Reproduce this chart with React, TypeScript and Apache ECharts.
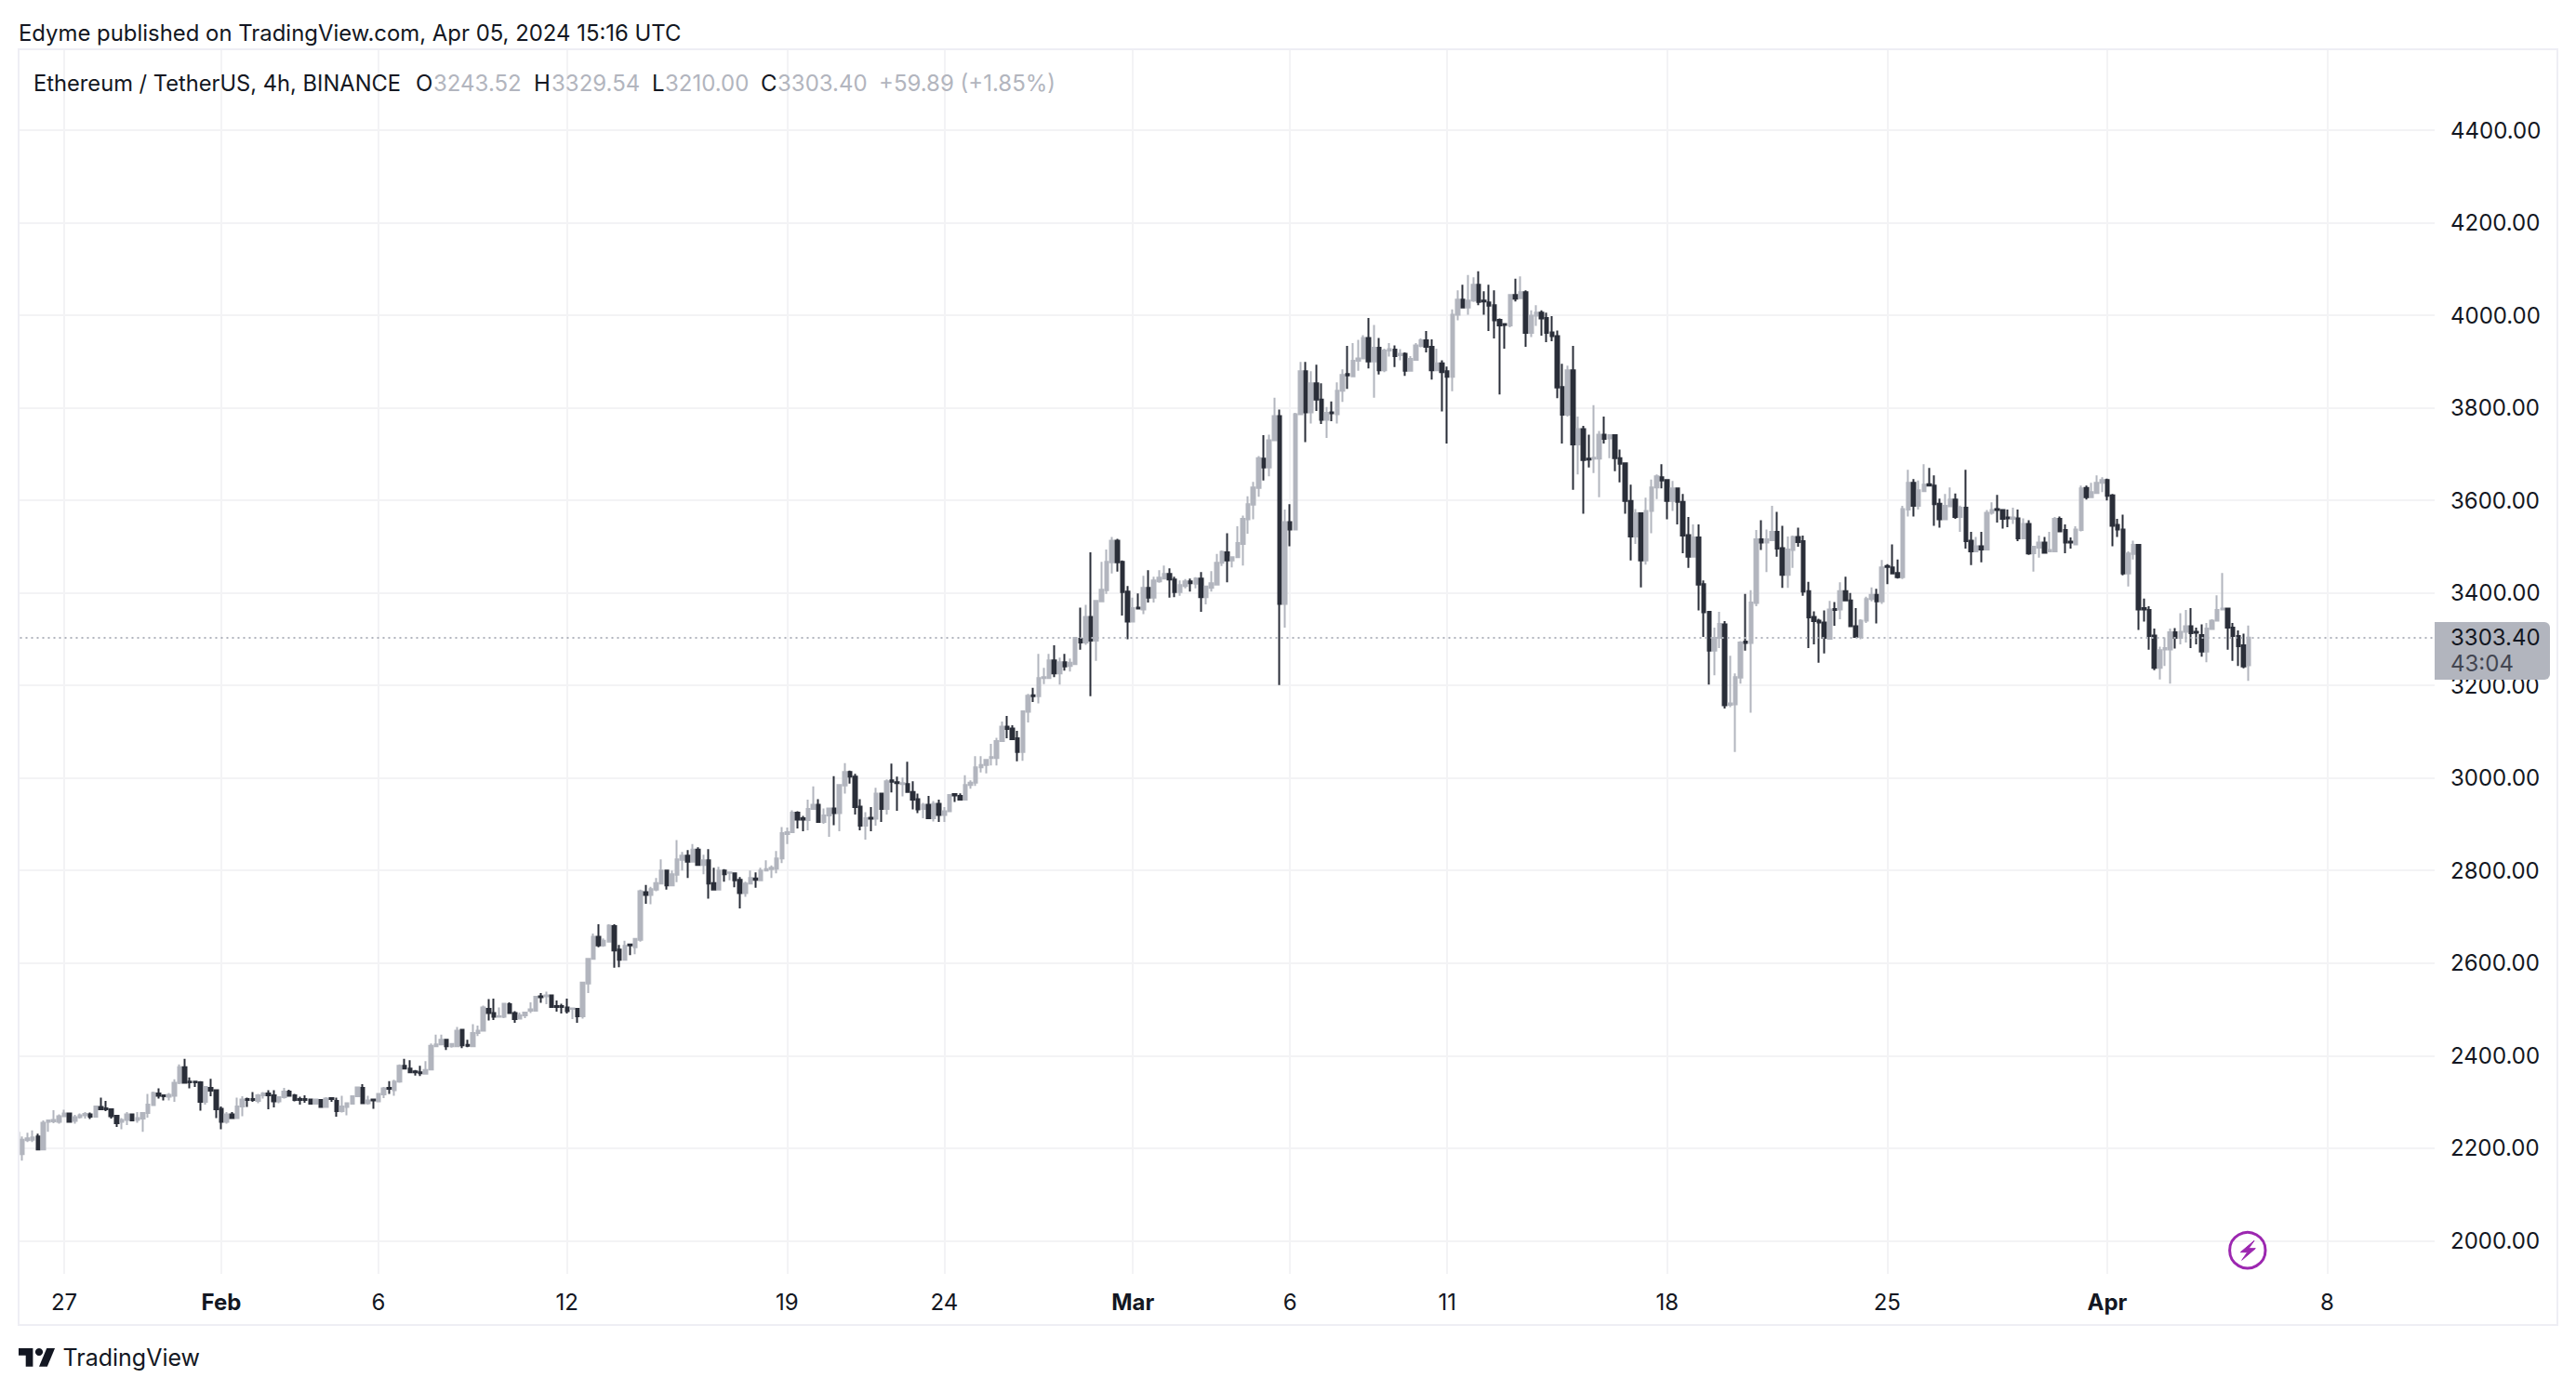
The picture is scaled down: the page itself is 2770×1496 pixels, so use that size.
import React, { useEffect, useRef } from "react";
import * as echarts from "echarts";

const opens = [
  2187,2187,2217,2218,2225,2197,2257,2258,2257,2269,
  2275,2259,2267,2271,2273,2268,2289,2286,2284,2270,
  2257,2261,2273,2261,2264,2276,2293,2318,2314,2311,
  2313,2341,2375,2344,2344,2342,2300,2330,2325,2285,
  2257,2273,2265,2290,2306,2306,2302,2314,2318,2314,
  2301,2310,2322,2314,2306,2306,2305,2296,2304,2289,
  2308,2302,2280,2289,2296,2312,2330,2297,2305,2301,
  2316,2330,2325,2344,2378,2372,2366,2364,2361,2370,
  2420,2424,2434,2420,2420,2456,2423,2420,2449,2454,
  2501,2492,2484,2484,2511,2492,2480,2487,2497,2497,
  2528,2528,2530,2507,2507,2504,2501,2501,2485,2556,
  2609,2657,2638,2646,2680,2629,2607,2640,2634,2650,
  2753,2747,2759,2772,2800,2768,2791,2823,2832,2819,
  2845,2812,2822,2773,2759,2800,2795,2794,2780,2751,
  2772,2783,2779,2800,2803,2804,2826,2879,2883,2925,
  2913,2909,2933,2942,2905,2919,2934,2924,2984,3013,
  3003,2938,2897,2914,2912,2966,2933,2995,2991,2987,
  2987,2970,2954,2933,2942,2913,2944,2920,2928,2965,
  2961,2953,2985,2990,3023,3028,3043,3043,3080,3111,
  3107,3086,3056,3143,3179,3177,3216,3216,3254,3226,
  3250,3242,3246,3301,3293,3348,3297,3382,3406,3466,
  3513,3467,3403,3338,3368,3364,3411,3390,3425,3431,
  3441,3429,3402,3415,3425,3420,3431,3391,3411,3418,
  3465,3488,3470,3477,3506,3559,3591,3627,3690,3671,
  3730,3782,3376,3553,3537,3786,3879,3790,3853,3818,
  3774,3790,3786,3837,3873,3868,3902,3907,3951,3900,
  3930,3881,3924,3926,3914,3917,3880,3904,3934,3946,
  3932,3881,3896,3879,3867,4001,4034,4017,4032,4066,
  4032,4028,4022,3990,3981,3978,4044,4037,4050,3962,
  3999,4006,3994,3963,3955,3845,3785,3881,3721,3754,
  3690,3690,3690,3742,3734,3741,3691,3680,3599,3522,
  3572,3470,3577,3628,3650,3644,3599,3626,3597,3525,
  3478,3520,3419,3359,3275,3303,3332,3158,3159,3217,
  3295,3292,3378,3516,3509,3514,3532,3497,3439,3493,
  3521,3512,3404,3348,3340,3336,3301,3365,3364,3404,
  3384,3328,3305,3340,3387,3396,3382,3458,3455,3443,
  3434,3580,3638,3588,3620,3635,3632,3593,3559,3587,
  3602,3564,3584,3513,3490,3501,3494,3573,3581,3579,
  3563,3560,3561,3518,3549,3486,3498,3509,3490,3490,
  3560,3536,3511,3505,3536,3627,3607,3616,3638,3644,
  3611,3547,3537,3442,3484,3504,3367,3363,3308,3238,
  3278,3278,3315,3303,3316,3328,3316,3309,3273,3322,
  3340,3364,3366,3325,3307,3287,3243.52,
];

const closes = [
  2233,2218,2221,2223,2197,2255,2260,2261,2269,2275,
  2257,2267,2271,2274,2268,2290,2284,2284,2269,2254,
  2261,2273,2260,2265,2276,2294,2319,2313,2312,2315,
  2341,2375,2341,2342,2342,2300,2332,2324,2284,2257,
  2273,2265,2290,2305,2304,2304,2314,2318,2314,2301,
  2310,2322,2313,2304,2304,2304,2296,2305,2289,2307,
  2306,2280,2290,2297,2312,2331,2297,2303,2303,2317,
  2329,2328,2344,2378,2372,2364,2364,2362,2369,2421,
  2424,2434,2420,2425,2454,2422,2421,2449,2454,2504,
  2492,2484,2485,2512,2492,2479,2487,2493,2500,2527,
  2526,2530,2505,2505,2505,2496,2502,2485,2558,2609,
  2657,2638,2648,2681,2627,2607,2637,2638,2652,2755,
  2747,2760,2773,2800,2768,2792,2824,2832,2819,2845,
  2812,2822,2772,2759,2800,2792,2796,2779,2751,2772,
  2784,2780,2800,2803,2806,2826,2881,2883,2925,2910,
  2910,2933,2942,2905,2919,2934,2924,2985,3013,3003,
  2937,2897,2913,2912,2966,2933,2993,2992,2989,2989,
  2970,2953,2932,2942,2913,2944,2920,2928,2963,2962,
  2953,2985,2990,3023,3028,3039,3045,3080,3111,3106,
  3084,3056,3144,3178,3177,3216,3218,3254,3226,3250,
  3241,3249,3303,3293,3348,3297,3383,3407,3467,3513,
  3466,3402,3338,3367,3366,3411,3390,3427,3433,3441,
  3429,3402,3417,3425,3421,3431,3391,3414,3421,3465,
  3489,3470,3477,3508,3560,3592,3628,3691,3671,3730,
  3782,3376,3553,3537,3786,3879,3790,3853,3818,3774,
  3789,3788,3837,3871,3870,3902,3907,3951,3900,3930,
  3881,3924,3927,3912,3917,3880,3906,3935,3946,3932,
  3881,3896,3877,3867,4001,4034,4017,4032,4066,4029,
  4030,4021,3989,3978,3979,4044,4036,4050,3962,3999,
  4006,3993,3962,3955,3844,3785,3881,3721,3754,3687,
  3688,3692,3742,3733,3741,3691,3679,3599,3522,3572,
  3470,3577,3628,3652,3643,3599,3626,3597,3524,3478,
  3520,3418,3358,3275,3303,3333,3157,3161,3218,3293,
  3292,3379,3516,3509,3516,3532,3496,3439,3494,3521,
  3510,3403,3347,3339,3336,3303,3364,3363,3404,3384,
  3328,3305,3340,3387,3396,3382,3455,3456,3442,3434,
  3581,3638,3588,3622,3634,3632,3592,3559,3588,3602,
  3564,3584,3512,3490,3501,3494,3573,3579,3579,3560,
  3561,3563,3518,3549,3485,3500,3509,3487,3493,3560,
  3533,3509,3509,3537,3626,3607,3618,3638,3644,3610,
  3545,3537,3442,3485,3504,3364,3364,3307,3238,3276,
  3281,3315,3303,3316,3328,3313,3314,3273,3323,3340,
  3363,3366,3325,3307,3285,3241,3303.40,
];

const lows = [
  2187,2173,2213,2213,2197,2197,2235,2254,2253,2267,
  2255,2253,2264,2264,2263,2266,2282,2280,2264,2246,
  2241,2250,2258,2255,2235,2266,2293,2307,2303,2303,
  2300,2338,2340,2329,2332,2281,2294,2312,2265,2241,
  2253,2265,2265,2269,2289,2300,2297,2307,2284,2288,
  2297,2307,2313,2301,2294,2298,2296,2294,2289,2288,
  2300,2268,2277,2271,2294,2310,2296,2294,2285,2301,
  2308,2317,2313,2341,2370,2362,2357,2356,2361,2369,
  2420,2422,2412,2417,2420,2416,2418,2420,2442,2453,
  2476,2477,2484,2481,2491,2471,2480,2481,2492,2495,
  2514,2511,2504,2495,2491,2491,2479,2471,2480,2535,
  2608,2634,2635,2645,2590,2591,2607,2617,2619,2646,
  2728,2727,2755,2771,2759,2767,2775,2800,2784,2818,
  2811,2792,2739,2757,2759,2776,2779,2764,2718,2743,
  2771,2763,2779,2799,2784,2794,2816,2857,2881,2891,
  2885,2887,2932,2903,2901,2873,2898,2885,2966,2988,
  2921,2887,2867,2885,2897,2905,2921,2969,2929,2960,
  2969,2932,2924,2913,2913,2906,2905,2905,2928,2948,
  2953,2953,2977,2983,3012,3010,3027,3027,3080,3086,
  3083,3036,3037,3120,3164,3161,3203,3214,3218,3202,
  3232,3230,3245,3277,3288,3177,3253,3380,3398,3442,
  3446,3351,3300,3337,3364,3354,3379,3379,3422,3429,
  3390,3391,3394,3410,3403,3410,3359,3375,3403,3417,
  3458,3423,3455,3475,3459,3528,3559,3608,3643,3652,
  3729,3201,3325,3501,3536,3784,3726,3766,3793,3765,
  3735,3771,3766,3813,3841,3867,3880,3906,3885,3822,
  3872,3877,3911,3888,3903,3869,3880,3903,3931,3920,
  3861,3880,3792,3723,3836,3989,4016,4001,4029,4022,
  4001,3966,3950,3829,3928,3974,4030,4037,3932,3953,
  3977,3956,3942,3944,3821,3723,3781,3623,3656,3571,
  3671,3659,3607,3723,3691,3663,3639,3571,3470,3506,
  3412,3461,3529,3603,3626,3559,3577,3548,3486,3454,
  3478,3362,3305,3202,3222,3281,3150,3153,3056,3204,
  3275,3141,3371,3493,3445,3513,3478,3411,3411,3454,
  3500,3394,3281,3289,3249,3269,3299,3329,3343,3383,
  3327,3304,3300,3335,3382,3334,3376,3419,3442,3431,
  3430,3565,3565,3580,3619,3631,3545,3541,3557,3587,
  3560,3532,3496,3460,3489,3466,3493,3569,3552,3539,
  3542,3549,3512,3518,3482,3446,3476,3486,3488,3489,
  3532,3486,3496,3504,3533,3602,3607,3615,3618,3600,
  3501,3521,3438,3414,3472,3320,3338,3277,3233,3213,
  3242,3204,3280,3289,3293,3281,3289,3262,3250,3320,
  3339,3362,3277,3253,3242,3237,3210.00,
];

const highs = [
  2233,2225,2233,2238,2231,2260,2260,2282,2273,2283,
  2277,2272,2275,2278,2277,2291,2309,2302,2286,2271,
  2265,2278,2274,2278,2276,2317,2322,2329,2314,2319,
  2349,2381,2393,2353,2344,2345,2333,2350,2325,2290,
  2278,2278,2309,2312,2309,2321,2317,2321,2325,2325,
  2312,2330,2326,2317,2311,2314,2306,2306,2305,2310,
  2310,2309,2313,2298,2313,2333,2338,2313,2306,2317,
  2332,2345,2348,2381,2393,2390,2369,2378,2388,2426,
  2445,2445,2434,2425,2462,2457,2434,2468,2465,2508,
  2522,2523,2504,2512,2515,2496,2493,2495,2515,2527,
  2535,2538,2530,2519,2512,2523,2503,2503,2560,2609,
  2664,2684,2653,2684,2684,2639,2648,2641,2654,2759,
  2769,2765,2784,2824,2800,2800,2866,2840,2844,2857,
  2850,2834,2846,2806,2808,2803,2796,2794,2786,2776,
  2800,2796,2806,2822,2811,2842,2894,2893,2930,2928,
  2918,2953,2982,2954,2934,2936,3004,2985,3032,3016,
  3009,2954,2926,2937,2979,2966,2997,3031,3003,3001,
  3035,2993,2966,2946,2961,2950,2953,2937,2965,2965,
  2967,3006,2995,3047,3047,3040,3074,3087,3122,3134,
  3114,3102,3146,3182,3195,3268,3238,3268,3287,3260,
  3268,3258,3305,3368,3374,3488,3384,3467,3494,3521,
  3517,3470,3415,3390,3399,3437,3449,3435,3449,3459,
  3453,3435,3427,3430,3431,3434,3445,3415,3447,3484,
  3492,3529,3477,3544,3567,3609,3640,3696,3741,3742,
  3822,3796,3580,3592,3789,3899,3899,3879,3893,3853,
  3802,3814,3855,3883,3934,3940,3947,3957,3994,3979,
  3951,3928,3940,3935,3927,3920,3912,3940,3950,3966,
  3948,3928,3903,3889,4013,4054,4066,4087,4082,4095,
  4052,4066,4054,3993,3981,4046,4079,4084,4054,4011,
  4022,4011,4006,3998,3967,3895,3891,3934,3781,3761,
  3742,3806,3750,3781,3743,3741,3710,3680,3634,3581,
  3572,3606,3645,3656,3678,3644,3642,3626,3614,3564,
  3548,3548,3427,3359,3325,3359,3339,3264,3226,3296,
  3398,3406,3536,3557,3537,3588,3575,3545,3522,3524,
  3541,3524,3424,3360,3344,3362,3383,3380,3423,3435,
  3400,3367,3343,3392,3412,3409,3471,3462,3505,3472,
  3588,3666,3646,3643,3678,3670,3654,3604,3614,3628,
  3615,3589,3666,3532,3521,3532,3579,3596,3612,3580,
  3580,3584,3580,3561,3557,3501,3524,3521,3532,3564,
  3565,3548,3520,3544,3632,3632,3638,3654,3650,3647,
  3614,3560,3569,3490,3513,3505,3388,3371,3323,3284,
  3304,3323,3324,3356,3363,3367,3325,3332,3335,3343,
  3395,3443,3368,3335,3319,3312,3329.54,
];

const priceTicks = [2000, 2200, 2400, 2600, 2800, 3000, 3200, 3400, 3600, 3800, 4000, 4200, 4400];
const dateTicks = [
  "2024-01-27 00:00", "2024-02-01 00:00", "2024-02-06 00:00", "2024-02-12 00:00", "2024-02-19 00:00",
  "2024-02-24 00:00", "2024-03-01 00:00", "2024-03-06 00:00", "2024-03-11 00:00", "2024-03-18 00:00",
  "2024-03-25 00:00", "2024-04-01 00:00", "2024-04-08 00:00",
];
const dateLabels = ["27", "Feb", "6", "12", "19", "24", "Mar", "6", "11", "18", "25", "Apr", "8"];
const monthLabels = ["Feb", "Mar", "Apr"];

const publishedText = "Edyme published on TradingView.com, Apr 05, 2024 15:16 UTC";
const symbolText = "Ethereum / TetherUS, 4h, BINANCE";
const changeText = "+59.89 (+1.85%)";
const countdownText = "43:04";

const FONT = "Inter, 'Noto Sans', sans-serif";
const UP = "#b2b5be";
const DOWN = "#2a2e39";
const INK = "#131722";
const GRID = "#f3f3f5";
const BORDER = "#eeeef4";
const PURPLE = "#9c27b0";

function buildCategories(): string[] {
  const out: string[] = [];
  const start = Date.UTC(2024, 0, 25, 12);
  for (let i = 0; i < 462; i++) {
    const iso = new Date(start + i * 4 * 3600 * 1000).toISOString();
    out.push(iso.slice(0, 10) + " " + iso.slice(11, 16));
  }
  return out;
}

function txt(text: string, x: number, y: number, fill: string, size = 24) {
  return {
    type: "text", x, y, z: 120, silent: true,
    style: { text, fill, fontFamily: FONT, fontSize: size, textVerticalAlign: "middle", textAlign: "left" },
  };
}

export default function App() {
  const ref = useRef<HTMLDivElement>(null);
  useEffect(() => {
    if (!ref.current) return;
    const chart = echarts.init(ref.current, undefined, { renderer: "svg" });
    const categories = buildCategories();
    const tickMap: Record<string, string> = {};
    dateTicks.forEach((d, i) => { tickMap[d] = dateLabels[i]; });
    const isTick = (_: number, value: string) => value in tickMap;
    const candles = opens.map((o, i) => [o, closes[i], lows[i], highs[i]]);
    const last = closes[closes.length - 1];

    chart.setOption({
      animation: false,
      backgroundColor: "#ffffff",
      grid: { left: 15.5, right: 152, top: 53, bottom: 126, containLabel: false },
      xAxis: {
        type: "category",
        data: categories,
        boundaryGap: true,
        axisLine: { show: false },
        axisTick: { show: false, alignWithLabel: true, interval: isTick },
        splitLine: { show: true, alignWithLabel: true, interval: isTick, lineStyle: { color: GRID, width: 2 } },
        axisLabel: {
          interval: isTick,
          hideOverlap: false,
          margin: 18,
          color: INK,
          fontFamily: FONT,
          fontSize: 24,
          formatter: (value: string) => {
            const t = tickMap[value] ?? "";
            return monthLabels.includes(t) ? `{b|${t}}` : t;
          },
          rich: { b: { fontFamily: FONT, fontSize: 24, fontWeight: 700, color: INK } },
        },
      },
      yAxis: {
        type: "value",
        position: "right",
        min: 1928.25,
        max: 4575,
        scale: true,
        axisLine: { show: false },
        axisTick: { show: false, customValues: priceTicks },
        splitLine: { show: true, lineStyle: { color: GRID, width: 2 } },
        axisLabel: {
          customValues: priceTicks,
          margin: 17,
          color: INK,
          fontFamily: FONT,
          fontSize: 24,
          formatter: (v: number) => v.toFixed(2),
        },
      },
      series: [
        {
          type: "candlestick",
          data: candles,
          barWidth: 4,
          silent: true,
          clip: true,
          itemStyle: { color: UP, color0: DOWN, borderColor: UP, borderColor0: DOWN, borderWidth: 2 },
          markLine: {
            silent: true,
            symbol: ["none", "none"],
            label: { show: false },
            lineStyle: { type: [2, 4], width: 2, color: UP },
            data: [{ yAxis: last }],
          },
        },
      ],
      graphic: { elements: [
        { type: "rect", z: 90, silent: true, shape: { x: 0, y: 40, width: 20, height: 1340 }, style: { fill: "#ffffff" } },
        { type: "rect", z: 95, silent: true, shape: { x: 20, y: 53, width: 2730, height: 1372 }, style: { fill: "none", stroke: BORDER, lineWidth: 2 } },
        { type: "rect", z: 110, silent: true, shape: { x: 2618, y: 669, width: 124, height: 62, r: [0, 6, 6, 0] }, style: { fill: UP } },
        txt(last.toFixed(2), 2635, 685, INK),
        txt(countdownText, 2635, 713, "#434651"),
        txt(publishedText, 20, 35, INK, 23.9),
        txt(symbolText, 36, 89, INK, 23.7),
        txt("O", 447, 89, INK), txt(opens[opens.length - 1].toFixed(2), 466, 89, UP),
        txt("H", 574, 89, INK), txt(highs[highs.length - 1].toFixed(2), 593, 89, UP),
        txt("L", 701, 89, INK), txt(lows[lows.length - 1].toFixed(2), 715, 89, UP),
        txt("C", 818, 89, INK), txt(last.toFixed(2), 836, 89, UP),
        txt(changeText, 945, 89, UP),
        txt("TradingView", 67.5, 1460, INK, 25),
        {
          type: "group", x: 20, y: 1450, scaleX: 1.1, scaleY: 1.1, z: 120, silent: true,
          children: [
            { type: "polygon", shape: { points: [[14, 18], [7, 18], [7, 7], [0, 7], [0, 0], [14, 0]] }, style: { fill: INK } },
            { type: "polygon", shape: { points: [[28, 18], [20, 18], [27.5, 0], [35.5, 0]] }, style: { fill: INK } },
            { type: "circle", shape: { cx: 20, cy: 3.6, r: 3.7 }, style: { fill: INK } },
          ],
        },
        { type: "circle", z: 120, silent: true, shape: { cx: 2416.8, cy: 1344.7, r: 19.2 }, style: { fill: "none", stroke: PURPLE, lineWidth: 3 } },
        {
          type: "polygon", z: 120, silent: true,
          shape: { points: [[2424, 1334.3], [2409.3, 1346.7], [2416.7, 1346.7], [2410.7, 1355.3], [2425.3, 1342.7], [2418, 1342.7]] },
          style: { fill: PURPLE, stroke: PURPLE, lineWidth: 1 },
        },
      ] },
    });
    return () => chart.dispose();
  }, []);
  return <div ref={ref} style={{ position: "fixed", left: 0, top: 0, width: 2770, height: 1496 }} />;
}
